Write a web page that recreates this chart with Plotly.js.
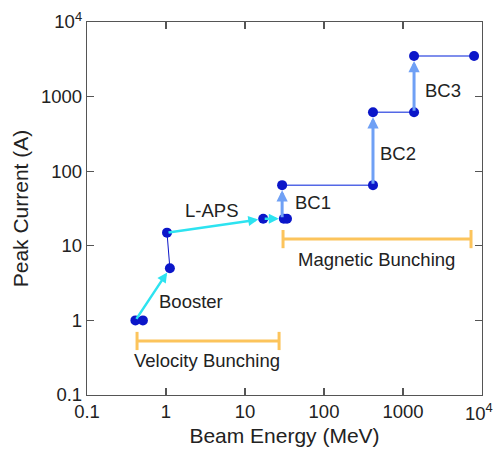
<!DOCTYPE html>
<html>
<head>
<meta charset="utf-8">
<script src="https://cdn.plot.ly/plotly-3.0.1.min.js"></script>
<style>html,body{margin:0;padding:0;background:#fff;}</style>
</head>
<body>
<div id="chart" style="width:493px;height:458px;"></div>
<script>
// --- data (Beam Energy in MeV, Peak Current in A) ---
const gunEnergy = [0.41, 0.51];
const gunCurrent = [1, 1];
const boosterEnergy = [1.12, 1.03];
const boosterCurrent = [5, 15];
const lapsEnergy = [17, 31, 34];
const lapsCurrent = [23, 23, 23];
const bcEnergyStart = [29.5, 417, 1380];
const bcEnergyEnd = [417, 1380, 7940];
const bcCurrentBefore = [23, 65, 617];
const bcCurrentAfter = [65, 617, 3500];
const bcLabels = ['BC1', 'BC2', 'BC3'];
const velocityRange = [0.43, 27];
const velocityLevel = 0.53;
const magneticRange = [30.3, 7260];
const magneticLevel = 12.3;
const xTickVals = [0.1, 1, 10, 100, 1000, 10000];
const xTickText = ['0.1', '1', '10', '100', '1000', '10<sup>4</sup>'];
const yTickVals = [0.1, 1, 10, 100, 1000, 10000];
const yTickText = ['0.1', '1', '10', '100', '1000', '10<sup>4</sup>'];

const L = Math.log10;
const dark = '#0b16c9';
const stepBlue = '#5468e6';
const arrowBlue = '#6fa0f5';
const cyan = '#2de3f0';
const orange = '#fcc45c';
const FONT = 'Liberation Sans, Arial, sans-serif';

const traces = [];
// orange range bars
traces.push({x: velocityRange, y: [velocityLevel, velocityLevel], mode: 'lines+markers',
  line: {color: orange, width: 3}, marker: {symbol: 'line-ns-open', size: 13, color: orange, line: {color: orange, width: 3}},
  hoverinfo: 'skip', showlegend: false});
traces.push({x: magneticRange, y: [magneticLevel, magneticLevel], mode: 'lines+markers',
  line: {color: orange, width: 3}, marker: {symbol: 'line-ns-open', size: 13, color: orange, line: {color: orange, width: 3}},
  hoverinfo: 'skip', showlegend: false});

// gun & booster thin dark segments
traces.push({x: gunEnergy, y: gunCurrent, mode: 'lines+markers', line: {color: dark, width: 1},
  marker: {color: dark, size: 10}, showlegend: false});
traces.push({x: boosterEnergy, y: boosterCurrent, mode: 'lines+markers', line: {color: dark, width: 1},
  marker: {color: dark, size: 10}, showlegend: false});
// L-APS points
traces.push({x: lapsEnergy, y: lapsCurrent, mode: 'markers', marker: {color: dark, size: 10}, showlegend: false});

// horizontal steps after bunch compressors
const stepX = [], stepY = [];
for (let i = 0; i < bcEnergyStart.length; i++) {
  stepX.push(bcEnergyStart[i], bcEnergyEnd[i], null);
  stepY.push(bcCurrentAfter[i], bcCurrentAfter[i], null);
}
traces.push({x: stepX, y: stepY, mode: 'lines+markers', line: {color: stepBlue, width: 1.5},
  marker: {color: dark, size: 10}, showlegend: false});

const annotations = [];
function arrow(x0, y0, x1, y1, color, width, size) {
  annotations.push({x: L(x1), y: L(y1), ax: L(x0), ay: L(y0), xref: 'x', yref: 'y', axref: 'x', ayref: 'y',
    text: '', showarrow: true, arrowhead: 2, arrowsize: size, arrowwidth: width, arrowcolor: color,
    standoff: 5, startstandoff: 0});
}
// cyan acceleration arrows
arrow(gunEnergy[0], gunCurrent[0], boosterEnergy[0], boosterCurrent[0], cyan, 2.5, 0.8);
arrow(boosterEnergy[1], boosterCurrent[1], lapsEnergy[0], lapsCurrent[0], cyan, 2.5, 0.8);
arrow(lapsEnergy[0], lapsCurrent[0], lapsEnergy[1], lapsCurrent[1], cyan, 2.5, 0.8);
// bunch compressor arrows
for (let i = 0; i < bcEnergyStart.length; i++) {
  arrow(bcEnergyStart[i], bcCurrentBefore[i], bcEnergyStart[i], bcCurrentAfter[i], arrowBlue, 3, 0.75);
}

const txtFont = {family: FONT, size: 18.5, color: '#222'};
function label(text, x, y, xanchor) {
  annotations.push({x: L(x), y: L(y), xref: 'x', yref: 'y', text: text, showarrow: false,
    font: txtFont, xanchor: xanchor || 'center', yanchor: 'middle'});
}
label('Booster', 0.77, 1.8, 'left');
label('L-APS', 3.8, 30, 'center');
label(bcLabels[0], 40, 37.5, 'left');
label(bcLabels[1], 480, 175, 'left');
label(bcLabels[2], 1780, 1225, 'left');
label('Magnetic Bunching', 468, 6.65, 'center');
label('Velocity Bunching', 3.3, 0.294, 'center');

// last x tick label placed so that it stays inside the page edge
const lastX = xTickVals.length - 1;
annotations.push({x: L(xTickVals[lastX]), y: 0, xref: 'x', yref: 'paper', text: xTickText[lastX],
  showarrow: false, font: txtFont, xanchor: 'right', yanchor: 'top', xshift: 12, yshift: -4, borderpad: 0});
const xTickTextShown = xTickText.map((t, i) => i === lastX ? '' : t);

const axisCommon = {type: 'log', range: [-1, 4], showgrid: false, zeroline: false,
  showline: true, linecolor: '#555', linewidth: 1.2, mirror: 'ticks', ticks: 'inside', ticklen: 7,
  tickcolor: '#555', tickwidth: 1.2,
  tickfont: {family: FONT, size: 18.5, color: '#222'}};

const layout = {
  width: 493, height: 458,
  margin: {l: 87, r: 11, t: 22, b: 63},
  paper_bgcolor: '#fff', plot_bgcolor: '#fff',
  xaxis: Object.assign({}, axisCommon, {tickvals: xTickVals, ticktext: xTickTextShown,
    title: {text: 'Beam Energy (MeV)', font: {family: FONT, size: 21, color: '#222'}, standoff: 6}}),
  yaxis: Object.assign({}, axisCommon, {tickvals: yTickVals, ticktext: yTickText,
    title: {text: 'Peak Current (A)', font: {family: FONT, size: 21, color: '#222'}, standoff: 6}}),
  annotations: annotations,
  showlegend: false
};

Plotly.newPlot('chart', traces, layout, {displayModeBar: false, staticPlot: true});
</script>
</body>
</html>
